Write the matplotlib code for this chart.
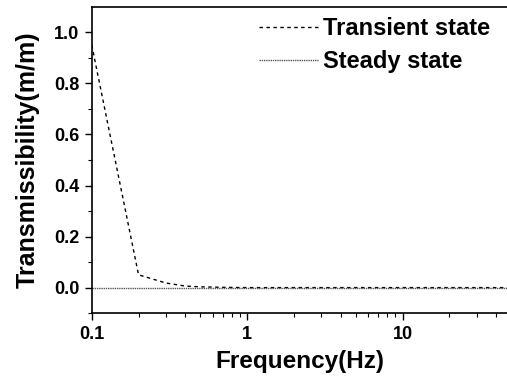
import matplotlib
matplotlib.use("Agg")
import matplotlib.pyplot as plt

plt.rcParams["font.family"] = ["Liberation Sans", "DejaVu Sans"]
plt.rcParams["font.weight"] = "bold"

# 数据
freq = [0.1, 0.2, 0.3, 0.4, 0.5, 0.7, 1, 2, 5, 10, 20, 30, 47]
transient = [0.95, 0.05, 0.018, 0.006, 0.003, 0.001, 0.0, 0.0, 0.0, 0.0, 0.0, 0.0, 0.0]
steady = [0.0] * len(freq)

x_ticks = [0.1, 1, 10]
x_labels = ["0.1", "1", "10"]
y_ticks = [0.0, 0.2, 0.4, 0.6, 0.8, 1.0]

fig = plt.figure(figsize=(5.07, 3.80), dpi=100)
ax = fig.add_axes([0.181, 0.176, 0.819, 0.806])

ax.plot(freq, transient, color="black", lw=1.0, ls=(0, (2.5, 2.5)), label="Transient state")
ax.plot(freq, steady, color="#555555", lw=1.0, ls=(0, (1, 0.6)), label="Steady state")

ax.set_xscale("log")
ax.set_xlim(0.1, 47)
ax.set_ylim(-0.1, 1.1)
ax.set_xticks(x_ticks)
ax.set_xticklabels(x_labels)
ax.set_yticks(y_ticks)
ax.set_yticks([-0.1, 0.1, 0.3, 0.5, 0.7, 0.9], minor=True)

ax.tick_params(axis="both", which="major", direction="out", length=5, width=1.0,
               labelsize=13, pad=4)
ax.tick_params(axis="both", which="minor", direction="out", length=3, width=0.8)
for lab in ax.get_xticklabels() + ax.get_yticklabels():
    lab.set_fontweight("bold")

ax.spines["right"].set_visible(False)
for s in ["left", "bottom", "top"]:
    ax.spines[s].set_linewidth(1.2)

ax.set_xlabel("Frequency(Hz)", fontsize=17.5, fontweight="bold", labelpad=5)
ax.set_ylabel("Transmissibility(m/m)", fontsize=18, fontweight="bold", labelpad=10)

ax.legend(loc="upper right", bbox_to_anchor=(1.01, 1.035), frameon=False,
          prop={"size": 17, "weight": "bold"}, handlelength=2.5,
          handletextpad=0.2, labelspacing=0.4)

fig.savefig("out.png", dpi=100)
plt.close(fig)
